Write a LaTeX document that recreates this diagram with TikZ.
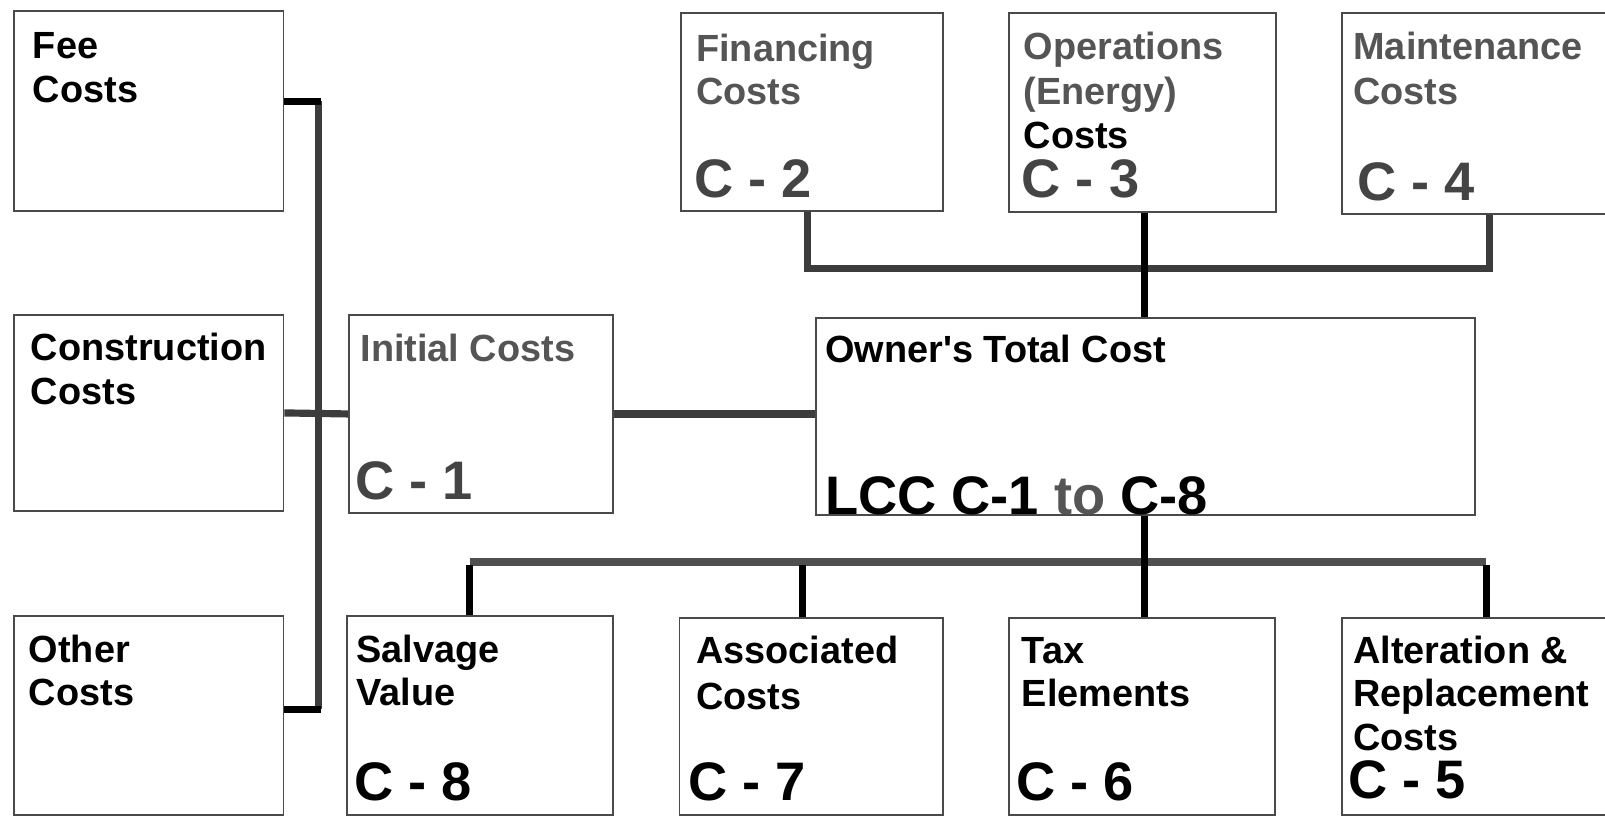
\documentclass[tikz,border=0pt]{standalone}
\usepackage{fontspec}
\setmainfont{Liberation Sans}
\definecolor{boxgray}{HTML}{4A4A4A}
\definecolor{busgray}{HTML}{3C3C3C}
\definecolor{midgray}{HTML}{4F4F4F}
\definecolor{textgray}{HTML}{555555}
\definecolor{codegray}{HTML}{444444}
\begin{document}
\begin{tikzpicture}[x=1pt,y=-1pt,
  box/.style={draw=boxgray, line width=1.8pt, fill=white, inner sep=0pt, anchor=north west},
  lbl/.style={font=\bfseries\fontsize{37}{43}\selectfont, inner sep=0pt, anchor=base west},
  code/.style={font=\bfseries\fontsize{53}{60}\selectfont, inner sep=0pt, anchor=base west},
  bus/.style={line width=7pt, draw=busgray},
  drop/.style={line width=7pt, draw=black},
]
\useasboundingbox (0,0) rectangle (1568,797);
\clip (0,0) rectangle (1568,797);

% cost boxes
\node[box, minimum width=263pt, minimum height=195pt] (fee)    at (13,10)   {};
\node[box, minimum width=263pt, minimum height=191pt] (constr) at (13,307)  {};
\node[box, minimum width=263pt, minimum height=194pt] (other)  at (13,601)  {};
\node[box, minimum width=258pt, minimum height=193pt] (init)   at (340,307) {};
\node[box, minimum width=644pt, minimum height=192pt] (owner)  at (796,310) {};
\node[box, minimum width=256pt, minimum height=193pt] (fin)    at (664,12)  {};
\node[box, minimum width=261pt, minimum height=194pt] (ops)    at (985,12)  {};
\node[box, minimum width=270pt, minimum height=196pt] (maint)  at (1310,12) {};
\node[box, minimum width=260pt, minimum height=194pt] (salv)   at (338,601) {};
\node[box, minimum width=257pt, minimum height=192pt] (assoc)  at (663,603) {};
\node[box, minimum width=260pt, minimum height=192pt] (tax)    at (985,603) {};
\node[box, minimum width=262pt, minimum height=192pt] (alter)  at (1310,603) {};

% bus corners
\coordinate (lbus) at (311,99);
\coordinate (lbot) at (311,693);
\coordinate (tl) at (789,262);
\coordinate (tm) at (1118,262);
\coordinate (tr) at (1455,262);
\coordinate (bl) at (459,549);
\coordinate (bm) at (1118,549);
\coordinate (bc) at (784,549);
\coordinate (br) at (1452,549);

% left tree: fee, construction and other costs into initial costs
\draw[bus] (lbus) -- (lbot);
\draw[drop] (fee.east |- lbus) -- ([xshift=3pt]lbus);
\draw[drop] (other.east |- lbot) -- ([xshift=3pt]lbot);
\draw[bus] (constr.east) -- (init.west);
\draw[bus] (init.east) -- (init.east -| owner.west);

% top tree: financing, operations, maintenance into owner's total cost
\draw[bus] (fin.south -| tl) -- (tl) -- (tr) -- (maint.south -| tr);
\draw[drop] (ops.south -| tm) -- (owner.north -| tm);

% bottom tree: owner's total cost down to C-5 ... C-8
\draw[bus, draw=midgray] (bl) -- (br);
\draw[drop] (owner.south -| bm) -- (tax.north -| bm);
\draw[drop] ([yshift=-3pt]bl) -- (salv.north -| bl);
\draw[drop] ([yshift=-3pt]bc) -- (assoc.north -| bc);
\draw[drop] ([yshift=-3pt]br) -- (alter.north -| br);

% labels
\node[lbl] (feeA) at (32,57) {Fee};
\node[lbl] (feeB) at (32,100) {Costs};
\node[lbl] (conA) at (30,352) {Construction};
\node[lbl] (conB) at (30,395) {Costs};
\node[lbl] (othA) at (28,647) {Other};
\node[lbl] (othB) at (28,689) {Costs};

\node[lbl, text=textgray] (iniA) at (352,353) {Initial Costs};
\node[code, text=codegray] (iniC) at (347,488) {C - 1};

\node[lbl] (ownA) at (806,354) {Owner\textquotesingle s Total Cost};
\node[code] (ownC) at (806,503) {LCC C-1 {\color{textgray}to} C-8};

\node[lbl, text=textgray] (finA) at (680,60) {Financing};
\node[lbl, text=textgray] (finB) at (680,102) {Costs};
\node[code, text=codegray] (finC) at (678,193) {C - 2};

\node[lbl, text=textgray] (opsA) at (1000,58) {Operations};
\node[lbl, text=textgray] (opsB) at (1000,102) {(Energy)};
\node[lbl] (opsD) at (1000,145) {Costs};
\node[code, text=codegray] (opsC) at (998,193) {C - 3};

\node[lbl, text=textgray] (mntA) at (1322,58) {Maintenance};
\node[lbl, text=textgray] (mntB) at (1322,102) {Costs};
\node[code, text=codegray] (mntC) at (1326,196) {C - 4};

\node[lbl] (salA) at (348,647) {Salvage};
\node[lbl] (salB) at (348,689) {Value};
\node[code] (salC) at (346,782) {C - 8};

\node[lbl] (ascA) at (680,648) {Associated};
\node[lbl] (ascB) at (680,693) {Costs};
\node[code] (ascC) at (672,782) {C - 7};

\node[lbl] (taxA) at (998,648) {Tax};
\node[lbl] (taxB) at (998,690) {Elements};
\node[code] (taxC) at (993,782) {C - 6};

\node[lbl] (altA) at (1322,648) {Alteration \&};
\node[lbl] (altB) at (1322,690) {Replacement};
\node[lbl] (altD) at (1322,733) {Costs};
\node[code] (altC) at (1317,780) {C - 5};
\end{tikzpicture}
\end{document}
